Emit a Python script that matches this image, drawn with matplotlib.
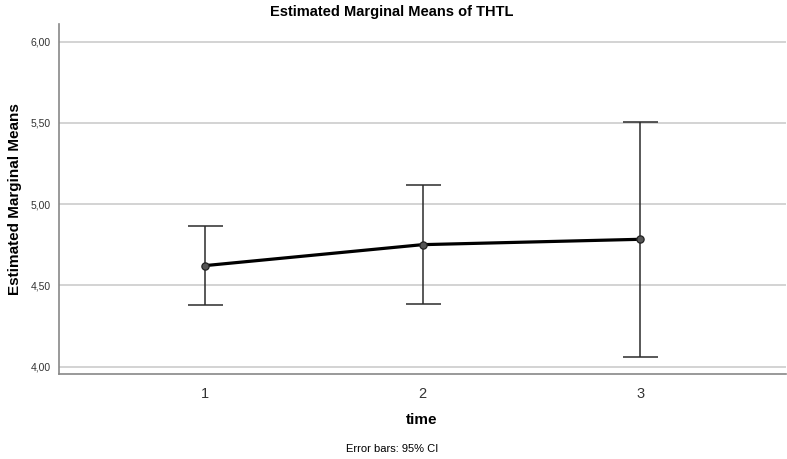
import matplotlib.pyplot as plt
import numpy as np

plt.rcParams['font.family'] = ['Liberation Sans', 'DejaVu Sans']

time = [1, 2, 3]
means = [4.622, 4.751, 4.784]
ci_low = [4.380, 4.388, 4.062]
ci_high = [4.864, 5.118, 5.504]
yticks = [4.0, 4.5, 5.0, 5.5, 6.0]

means = np.array(means)
err = [means - np.array(ci_low), np.array(ci_high) - means]

fig = plt.figure(figsize=(7.87, 4.59), dpi=100)
ax = fig.add_axes([59 / 787, 1 - 374 / 459, (786 - 59) / 787, (374 - 24) / 459])

ax.errorbar(time, means, yerr=err, fmt='none', ecolor='#2b2b2b', elinewidth=1.1,
            capsize=12.6, capthick=1.1, zorder=2)
ax.plot(time, means, color='black', lw=2.3, marker='o', ms=5.2,
        mfc='#555555', mec='#222222', mew=0.9, zorder=3)

ax.set_xlim(0.329, 3.671)
ax.set_ylim(3.955, 6.109)
ax.set_xticks(time)
ax.set_xticklabels([str(t) for t in time], fontsize=10.5, color='#333333')
ax.set_yticks(yticks)
ax.set_yticklabels([f'{v:.2f}'.replace('.', ',') for v in yticks], fontsize=7.5, color='#333333')
ax.tick_params(length=0, pad=6)
ax.tick_params(axis='x', pad=9)

ax.grid(axis='y', color='#cccccc', lw=1.2)
ax.set_axisbelow(True)
for s in ['top', 'right']:
    ax.spines[s].set_visible(False)
for s in ['left', 'bottom']:
    ax.spines[s].set_color('#888888')
    ax.spines[s].set_linewidth(1.2)

fig.text(392 / 787, 1 - 12 / 459, 'Estimated Marginal Means of THTL', ha='center', va='center',
         fontsize=10.5, fontweight='bold')
fig.text(15 / 787, 1 - 199 / 459, 'Estimated Marginal Means', ha='center', va='center',
         rotation=90, fontsize=11, fontweight='bold')
fig.text(422 / 787, 1 - 420 / 459, 'time', ha='center', va='center', fontsize=11, fontweight='bold')
fig.text(392 / 787, 1 - 449 / 459, 'Error bars: 95% CI', ha='center', va='center', fontsize=8)

fig.savefig('out.png', dpi=100)
